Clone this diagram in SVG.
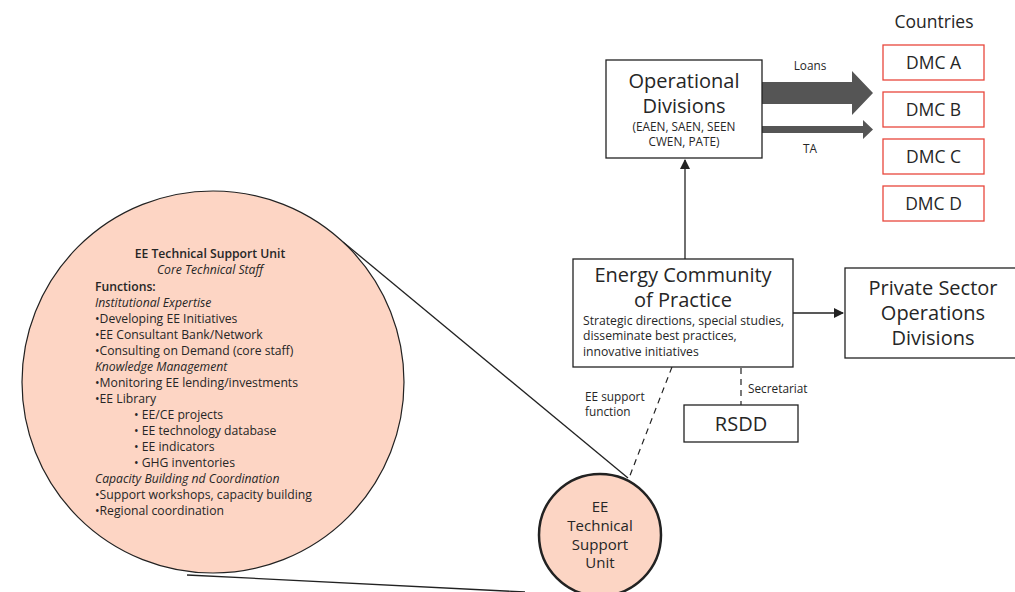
<svg xmlns="http://www.w3.org/2000/svg" width="1015" height="592" viewBox="0 0 1015 592">
<style>
text{font-family:"Open Sans","Noto Sans","Liberation Sans",sans-serif;fill:#262626}
.box{fill:#fff;stroke:#222;stroke-width:1.3}
.dmc{fill:#fff;stroke:#e8473c;stroke-width:1.3}
.big{font-size:20px}
.sm{font-size:12.2px}
.sb{font-size:11.8px}
.xs{font-size:11.8px}
.dm{font-size:17.5px}
.c{text-anchor:middle}
.it{font-style:italic}
.line{stroke:#222;stroke-width:1.3;fill:none}
.dash{stroke:#222;stroke-width:1.2;fill:none;stroke-dasharray:6 5}
</style>
<defs>
<marker id="ah" markerWidth="10" markerHeight="10" refX="9" refY="5" orient="auto" markerUnits="userSpaceOnUse">
<path d="M0,0 L10,5 L0,10 Z" fill="#222"/>
</marker>
</defs>
<g id="connectors">
<line class="line" x1="343" y1="242" x2="628" y2="478"/>
<line class="line" x1="187" y1="575" x2="525" y2="592"/>
<line class="line" x1="685" y1="259" x2="685" y2="160" marker-end="url(#ah)"/>
<line class="line" x1="793" y1="313" x2="843" y2="313" marker-end="url(#ah)"/>
<line class="dash" x1="672" y1="367" x2="629" y2="478"/>
<line class="dash" x1="741" y1="368" x2="741" y2="405"/>
<path d="M762,82 L852,82 L852,71 L873,93 L852,115 L852,104 L762,104 Z" fill="#555"/>
<path d="M762,126 L863,126 L863,120 L873,129.5 L863,139 L863,133 L762,133 Z" fill="#555"/>
<text class="xs c" x="810" y="70">Loans</text>
<text class="xs c" x="810" y="153">TA</text>
<text class="xs" x="748" y="393">Secretariat</text>
<text class="xs" x="585" y="401">EE support</text>
<text class="xs" x="585" y="416">function</text>
</g>
<g id="big-circle">
<circle cx="213" cy="382" r="191" fill="#fdd5c4" stroke="#222" stroke-width="1.2"/>
<text class="sm c" x="210" y="258" font-weight="600">EE Technical Support Unit</text>
<text class="sm c it" x="210" y="274">Core Technical Staff</text>
<text class="sm" x="95" y="291" font-weight="600">Functions:</text>
<text class="sm it" x="95" y="307">Institutional Expertise</text>
<text class="sm" x="95" y="323">•Developing EE Initiatives</text>
<text class="sm" x="95" y="339">•EE Consultant Bank/Network</text>
<text class="sm" x="95" y="355">•Consulting on Demand (core staff)</text>
<text class="sm it" x="95" y="371">Knowledge Management</text>
<text class="sm" x="95" y="387">•Monitoring EE lending/investments</text>
<text class="sm" x="95" y="403">•EE Library</text>
<text class="sm" x="134" y="419">• EE/CE projects</text>
<text class="sm" x="134" y="435">• EE technology database</text>
<text class="sm" x="134" y="451">• EE indicators</text>
<text class="sm" x="134" y="467">• GHG inventories</text>
<text class="sm it" x="95" y="483">Capacity Building nd Coordination</text>
<text class="sm" x="95" y="499">•Support workshops, capacity building</text>
<text class="sm" x="95" y="515">•Regional coordination</text>
</g>
<g id="ee-tsu">
<circle cx="600" cy="535" r="61" fill="#fcd5c4" stroke="#222" stroke-width="2.5"/>
<text class="c" x="600" y="512" font-size="15">EE</text>
<text class="c" x="600" y="531" font-size="15">Technical</text>
<text class="c" x="600" y="550" font-size="15">Support</text>
<text class="c" x="600" y="568" font-size="15">Unit</text>
</g>
<g id="operational-divisions">
<rect class="box" x="606" y="60" width="156" height="98"/>
<text class="big c" x="684" y="88">Operational</text>
<text class="big c" x="684" y="113">Divisions</text>
<text class="sb c" x="684" y="131">(EAEN, SAEN, SEEN</text>
<text class="sb c" x="684" y="146">CWEN, PATE)</text>
</g>
<g id="countries">
<text class="dm c" x="934" y="28">Countries</text>
</g>
<g id="dmc-a"><rect class="dmc" x="883" y="45" width="101" height="35"/><text class="dm c" x="933.5" y="68.5">DMC A</text></g>
<g id="dmc-b"><rect class="dmc" x="883" y="92" width="101" height="35"/><text class="dm c" x="933.5" y="115.5">DMC B</text></g>
<g id="dmc-c"><rect class="dmc" x="883" y="139" width="101" height="35"/><text class="dm c" x="933.5" y="162.5">DMC C</text></g>
<g id="dmc-d"><rect class="dmc" x="883" y="186" width="101" height="35"/><text class="dm c" x="933.5" y="209.5">DMC D</text></g>
<g id="energy-cop">
<rect class="box" x="573" y="259" width="220" height="108"/>
<text class="big c" x="683" y="282">Energy Community</text>
<text class="big c" x="683" y="307">of Practice</text>
<text class="sm" x="583" y="325">Strategic directions, special studies,</text>
<text class="sm" x="583" y="340">disseminate best practices,</text>
<text class="sm" x="583" y="356">innovative initiatives</text>
</g>
<g id="private-sector">
<rect class="box" x="845" y="268" width="175" height="90"/>
<text class="big c" x="933" y="295">Private Sector</text>
<text class="big c" x="933" y="320">Operations</text>
<text class="big c" x="933" y="345">Divisions</text>
</g>
<g id="rsdd">
<rect class="box" x="684" y="405" width="114" height="37"/>
<text class="big c" x="741" y="431">RSDD</text>
</g>
</svg>
